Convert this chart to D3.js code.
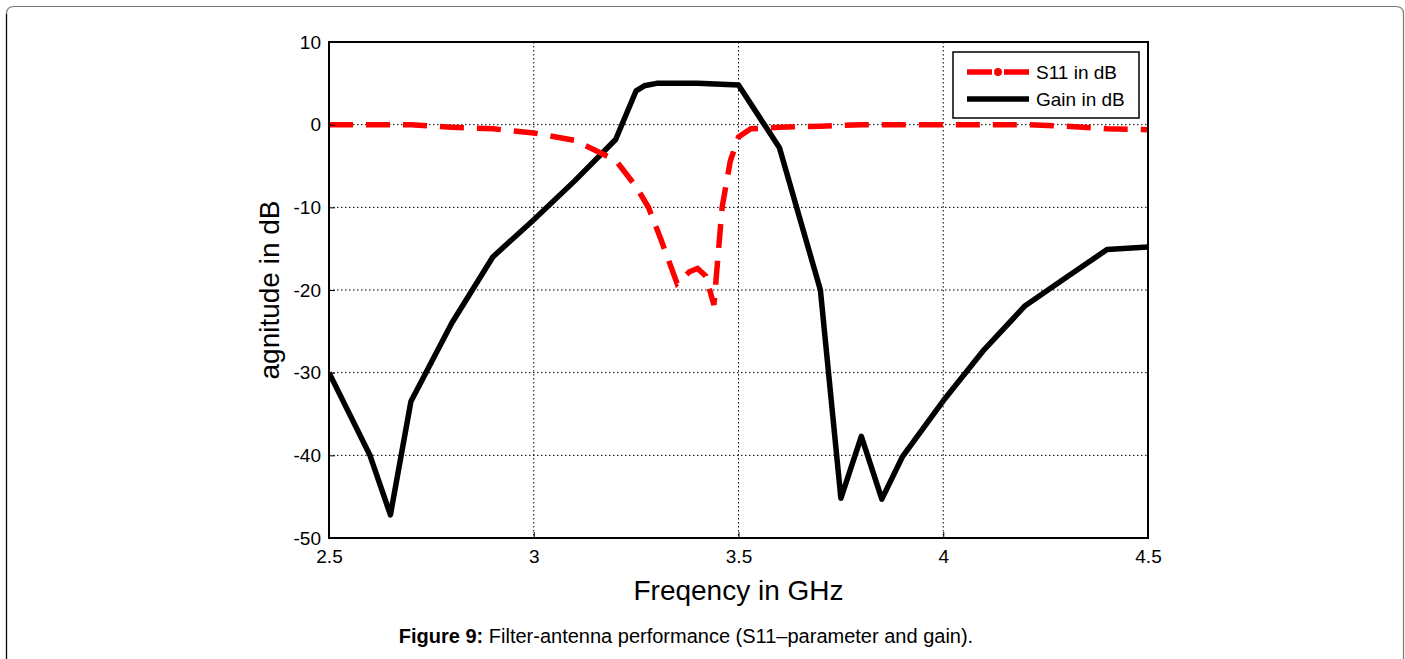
<html>
<head>
<meta charset="utf-8">
<script src="https://d3js.org/d3.v7.min.js"></script>
<style>
  body { margin: 0; background: #fff; font-family: "Liberation Sans", Arial, sans-serif; }
  .tick text { font-family: "Liberation Sans", Arial, sans-serif; }
</style>
</head>
<body>
<div id="chart"></div>
<script>
// frequency (GHz) and values (dB)
var gainFreq = [2.5, 2.6, 2.65, 2.7, 2.8, 2.9, 3.0, 3.1, 3.2, 3.25, 3.27, 3.3, 3.4, 3.5, 3.6, 3.7, 3.75, 3.8, 3.85, 3.9, 4.0, 4.1, 4.2, 4.3, 4.4, 4.5];
var gainDb   = [-30, -40, -47.2, -33.5, -24, -16, -11.5, -6.8, -1.8, 4.1, 4.7, 5, 5, 4.8, -2.8, -20, -45.2, -37.7, -45.3, -40.2, -33.4, -27.2, -21.9, -18.5, -15.1, -14.8];

var s11Freq = [2.5, 2.6, 2.7, 2.8, 2.9, 3.0, 3.1, 3.2, 3.25, 3.28, 3.31, 3.35, 3.38, 3.4, 3.42, 3.44, 3.46, 3.48, 3.5, 3.53, 3.6, 3.7, 3.8, 3.9, 4.0, 4.1, 4.2, 4.3, 4.4, 4.5];
var s11Db   = [0, 0, 0, -0.3, -0.5, -1.0, -1.9, -4.3, -7.5, -10, -13.8, -19.2, -17.8, -17.4, -18.3, -21.8, -10, -4.4, -1.5, -0.5, -0.3, -0.2, 0, 0, 0, 0, 0, -0.2, -0.5, -0.6];

var xTicks = [2.5, 3, 3.5, 4, 4.5];
var yTicks = [10, 0, -10, -20, -30, -40, -50];
var legendNames = ["S11 in dB", "Gain in dB"];

var W = 1405, H = 659;
var pLeft = 329, pRight = 1148, pTop = 42, pBottom = 538;

var svg = d3.select("#chart").append("svg")
  .attr("width", W)
  .attr("height", H);

// page frame (rounded, runs off the bottom)
svg.append("path")
  .attr("d", "M6.5,700 L6.5,14 Q6.5,6.5 14,6.5 L1396,6.5 Q1403.5,6.5 1403.5,14 L1403.5,700")
  .attr("fill", "none")
  .attr("stroke", "#777")
  .attr("stroke-width", 1.2);
svg.append("line").attr("x1", 6.5).attr("x2", 6.5).attr("y1", 14).attr("y2", 659)
  .attr("stroke", "#000").attr("stroke-width", 1.2);

var x = d3.scaleLinear().domain([2.5, 4.5]).range([pLeft, pRight]);
var y = d3.scaleLinear().domain([-50, 10]).range([pBottom, pTop]);

// grid
var grid = svg.append("g");
grid.selectAll(".gx").data(xTicks.slice(1, -1)).enter().append("line")
  .attr("x1", d => x(d)).attr("x2", d => x(d))
  .attr("y1", pTop).attr("y2", pBottom)
  .attr("stroke", "#000").attr("stroke-width", 1).attr("stroke-dasharray", "1.5,2.5");
grid.selectAll(".gy").data(yTicks.slice(1, -1)).enter().append("line")
  .attr("x1", pLeft).attr("x2", pRight)
  .attr("y1", d => y(d)).attr("y2", d => y(d))
  .attr("stroke", "#000").attr("stroke-width", 1).attr("stroke-dasharray", "1.5,2.5");

// curves
svg.append("clipPath").attr("id", "clip").append("rect")
  .attr("x", pLeft).attr("y", pTop).attr("width", pRight - pLeft).attr("height", pBottom - pTop);

var line = d3.line().x(d => x(d[0])).y(d => y(d[1]));

svg.append("path")
  .datum(gainFreq.map((f, i) => [f, gainDb[i]]))
  .attr("clip-path", "url(#clip)")
  .attr("d", line)
  .attr("fill", "none")
  .attr("stroke", "#000")
  .attr("stroke-width", 5.5)
  .attr("stroke-linejoin", "round");

svg.append("path")
  .datum(s11Freq.map((f, i) => [f, s11Db[i]]))
  .attr("clip-path", "url(#clip)")
  .attr("d", line)
  .attr("fill", "none")
  .attr("stroke", "#ff0000")
  .attr("stroke-width", 5.5)
  .attr("stroke-dasharray", "24,13");

// axes (plain hyphen minus like the original)
var xAxis = d3.axisBottom(x).tickValues(xTicks).tickFormat(d => String(d)).tickSizeInner(-6).tickSizeOuter(0).tickPadding(12);
var yAxis = d3.axisLeft(y).tickValues(yTicks).tickFormat(d => String(d)).tickSizeInner(-6).tickSizeOuter(0).tickPadding(8);

var gx = svg.append("g").attr("transform", "translate(0," + pBottom + ")").call(xAxis);
var gy = svg.append("g").attr("transform", "translate(" + pLeft + ",0)").call(yAxis);
[gx, gy].forEach(g => {
  g.select(".domain").remove();
  g.selectAll(".tick line").attr("stroke", "#000").attr("stroke-width", 1);
  g.selectAll(".tick text").attr("font-size", 19).attr("fill", "#000");
});

// box
svg.append("rect")
  .attr("x", pLeft).attr("y", pTop).attr("width", pRight - pLeft).attr("height", pBottom - pTop)
  .attr("fill", "none").attr("stroke", "#000").attr("stroke-width", 2);

// axis labels
svg.append("text")
  .attr("x", (pLeft + pRight) / 2).attr("y", 600)
  .attr("text-anchor", "middle")
  .attr("font-size", 28)
  .text("Freqency in GHz");

svg.append("text")
  .attr("transform", "translate(279," + ((pTop + pBottom) / 2) + ") rotate(-90)")
  .attr("text-anchor", "middle")
  .attr("font-size", 28)
  .text("agnitude in dB");

// legend
var lg = svg.append("g").attr("transform", "translate(953,52)");
lg.append("rect").attr("width", 186).attr("height", 66)
  .attr("fill", "#fff").attr("stroke", "#000").attr("stroke-width", 1.5);
lg.append("line").attr("x1", 14).attr("x2", 76).attr("y1", 20).attr("y2", 20)
  .attr("stroke", "#ff0000").attr("stroke-width", 5.5).attr("stroke-dasharray", "25,12,0,0,25");
lg.append("circle").attr("cx", 45).attr("cy", 20).attr("r", 4).attr("fill", "#ff0000");
lg.append("line").attr("x1", 14).attr("x2", 76).attr("y1", 47).attr("y2", 47)
  .attr("stroke", "#000").attr("stroke-width", 5.5);
lg.selectAll(".lt").data(legendNames).enter().append("text")
  .attr("x", 83).attr("y", (d, i) => 27 + i * 27)
  .attr("font-size", 19)
  .text(d => d);

// caption
var cap = svg.append("text")
  .attr("x", 686).attr("y", 643)
  .attr("text-anchor", "middle")
  .attr("font-size", 20)
  .attr("font-family", "'Liberation Sans', Arial, sans-serif");
cap.append("tspan").attr("font-weight", "bold").text("Figure 9:");
cap.append("tspan").text(" Filter-antenna performance (S11\u2013parameter and gain).");
</script>
</body>
</html>
